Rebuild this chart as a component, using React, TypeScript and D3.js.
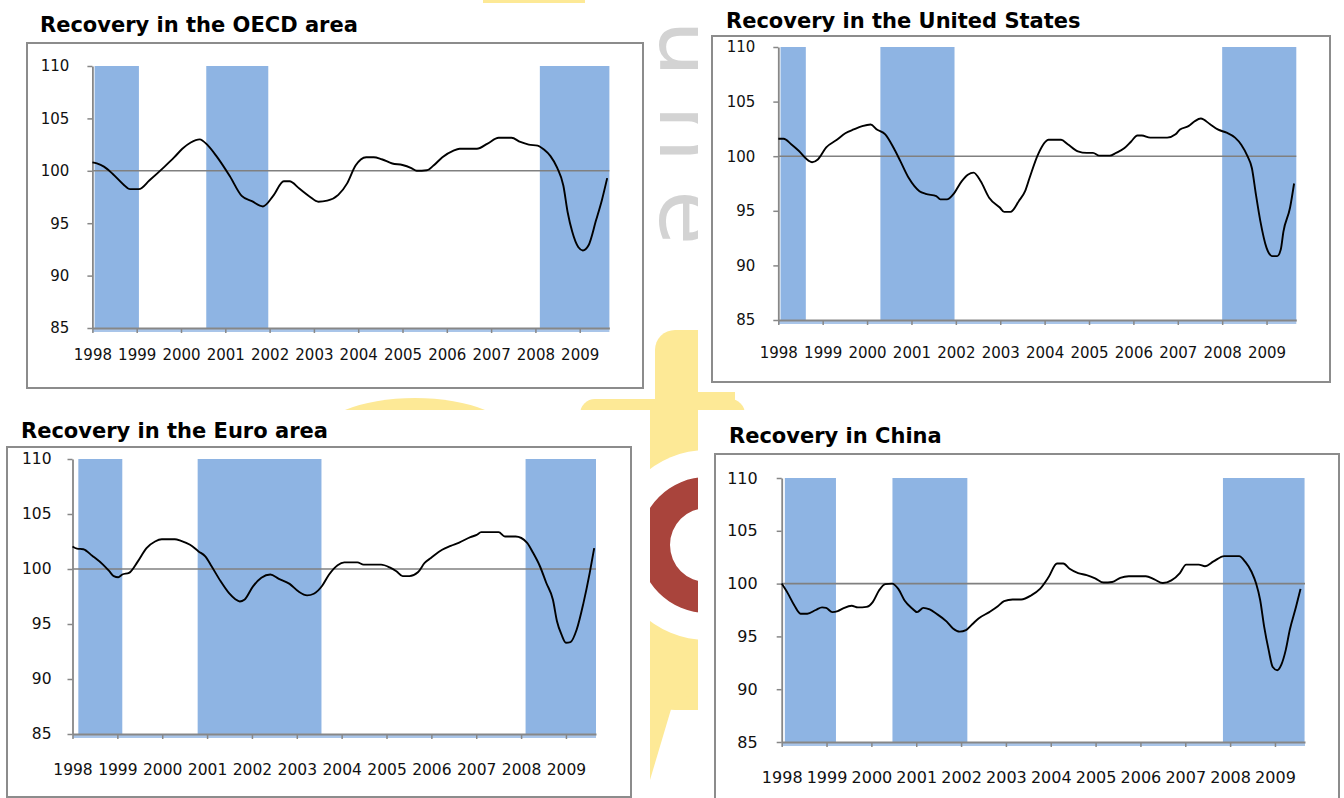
import { useRef, useEffect } from 'react';
import * as d3 from 'd3';

const yearTicks = [1998, 1999, 2000, 2001, 2002, 2003, 2004, 2005, 2006, 2007, 2008, 2009];
const valueTicks = [85, 90, 95, 100, 105, 110];

const titles = [
    'Recovery in the OECD area',
    'Recovery in the United States',
    'Recovery in the Euro area',
    'Recovery in China',
];

// [year, index]
const oecdSeries = [
    [1998.0, 100.8], [1998.1, 100.7], [1998.26, 100.4], [1998.46, 99.7], [1998.7, 98.7], [1998.85, 98.25],
    [1999.05, 98.25], [1999.29, 99.1], [1999.63, 100.4], [1999.85, 101.3], [2000.03, 102.1], [2000.22, 102.7],
    [2000.42, 103.0], [2000.61, 102.4], [2000.8, 101.4], [2001.1, 99.5], [2001.37, 97.6], [2001.6, 97.1],
    [2001.85, 96.6], [2002.08, 97.6], [2002.32, 99.0], [2002.45, 99.0], [2002.67, 98.3], [2002.9, 97.55],
    [2003.1, 97.05], [2003.3, 97.15], [2003.55, 97.7], [2003.75, 98.8], [2003.94, 100.5], [2004.18, 101.3],
    [2004.35, 101.3], [2004.53, 101.1], [2004.77, 100.7], [2005.0, 100.55], [2005.2, 100.25], [2005.32, 100.0],
    [2005.55, 100.05], [2005.7, 100.5], [2005.9, 101.3], [2006.14, 101.9], [2006.29, 102.1], [2006.68, 102.1],
    [2006.92, 102.6], [2007.17, 103.15], [2007.46, 103.15], [2007.66, 102.75], [2007.85, 102.5], [2008.05, 102.4],
    [2008.2, 102.0], [2008.34, 101.4], [2008.49, 100.3], [2008.63, 98.6], [2008.73, 96.0], [2008.83, 94.2],
    [2008.97, 92.7], [2009.07, 92.4], [2009.2, 92.9], [2009.37, 95.3], [2009.5, 97.2], [2009.62, 99.3],
];

const usSeries = [
    [1998.0, 101.6], [1998.12, 101.6], [1998.29, 101.1], [1998.46, 100.5], [1998.68, 99.6], [1998.76, 99.45],
    [1998.89, 99.7], [1999.08, 100.8], [1999.32, 101.5], [1999.51, 102.1], [1999.7, 102.45], [1999.89, 102.75],
    [2000.08, 102.9], [2000.22, 102.45], [2000.41, 102.0], [2000.6, 100.75], [2000.75, 99.55], [2000.94, 98.0],
    [2001.18, 96.8], [2001.32, 96.55], [2001.56, 96.35], [2001.65, 96.05], [2001.8, 96.05], [2001.94, 96.5],
    [2002.13, 97.7], [2002.27, 98.3], [2002.4, 98.5], [2002.56, 97.7], [2002.75, 96.2], [2002.99, 95.3],
    [2003.09, 94.9], [2003.23, 94.9], [2003.42, 95.9], [2003.56, 96.8], [2003.66, 98.0], [2003.85, 100.15],
    [2004.09, 101.5], [2004.37, 101.5], [2004.52, 101.1], [2004.75, 100.45], [2004.95, 100.3], [2005.09, 100.3],
    [2005.23, 100.05], [2005.47, 100.05], [2005.61, 100.3], [2005.8, 100.75], [2005.95, 101.35], [2006.09, 101.9],
    [2006.19, 101.9], [2006.38, 101.7], [2006.76, 101.7], [2006.95, 102.0], [2007.05, 102.45], [2007.24, 102.75],
    [2007.38, 103.2], [2007.52, 103.45], [2007.72, 102.95], [2007.9, 102.45], [2008.1, 102.15], [2008.29, 101.7],
    [2008.43, 101.05], [2008.57, 100.0], [2008.67, 98.9], [2008.76, 96.5], [2008.86, 94.05], [2009.0, 91.6],
    [2009.13, 90.85], [2009.24, 90.85], [2009.32, 91.45], [2009.38, 93.1], [2009.53, 95.3], [2009.62, 97.5],
];

const euroSeries = [
    [1998.0, 102.05], [1998.1, 101.85], [1998.24, 101.8], [1998.44, 101.2], [1998.68, 100.4], [1998.82, 99.8],
    [1998.92, 99.35], [1999.02, 99.25], [1999.11, 99.5], [1999.26, 99.65], [1999.45, 100.65], [1999.65, 101.9],
    [1999.84, 102.5], [1999.99, 102.7], [2000.28, 102.7], [2000.42, 102.55], [2000.62, 102.2], [2000.81, 101.6],
    [2000.96, 101.15], [2001.1, 100.25], [2001.3, 98.9], [2001.49, 97.8], [2001.63, 97.25], [2001.73, 97.05],
    [2001.83, 97.2], [2002.02, 98.4], [2002.21, 99.2], [2002.41, 99.5], [2002.6, 99.1], [2002.84, 98.65],
    [2003.04, 97.95], [2003.23, 97.6], [2003.38, 97.75], [2003.57, 98.5], [2003.72, 99.5], [2003.91, 100.35],
    [2004.06, 100.6], [2004.35, 100.6], [2004.49, 100.4], [2004.88, 100.4], [2005.07, 100.15], [2005.22, 99.8],
    [2005.36, 99.35], [2005.51, 99.35], [2005.7, 99.7], [2005.85, 100.55], [2005.99, 101.0], [2006.24, 101.75],
    [2006.43, 102.1], [2006.62, 102.4], [2006.87, 102.9], [2007.01, 103.1], [2007.11, 103.35], [2007.5, 103.35],
    [2007.64, 102.95], [2007.88, 102.95], [2008.13, 102.4], [2008.27, 101.45], [2008.42, 100.25], [2008.56, 98.75],
    [2008.71, 97.2], [2008.8, 95.25], [2008.9, 94.05], [2009.0, 93.3], [2009.1, 93.35], [2009.24, 94.5],
    [2009.39, 96.9], [2009.53, 99.65], [2009.63, 101.9],
];

const chinaSeries = [
    [1998.0, 100.0], [1998.14, 99.05], [1998.28, 97.95], [1998.42, 97.15], [1998.57, 97.15], [1998.76, 97.5],
    [1998.9, 97.75], [1998.99, 97.7], [1999.13, 97.3], [1999.25, 97.4], [1999.37, 97.65], [1999.56, 97.9],
    [1999.7, 97.75], [1999.89, 97.8], [2000.03, 98.25], [2000.17, 99.35], [2000.31, 99.95], [2000.46, 100.0],
    [2000.6, 99.5], [2000.74, 98.4], [2000.91, 97.65], [2001.02, 97.3], [2001.16, 97.7], [2001.3, 97.55],
    [2001.45, 97.15], [2001.68, 96.4], [2001.82, 95.75], [2001.97, 95.45], [2002.11, 95.6], [2002.25, 96.15],
    [2002.39, 96.7], [2002.63, 97.3], [2002.82, 97.85], [2002.96, 98.35], [2003.15, 98.5], [2003.34, 98.5],
    [2003.57, 98.9], [2003.76, 99.5], [2003.95, 100.6], [2004.14, 101.9], [2004.28, 101.9], [2004.42, 101.4],
    [2004.61, 101.0], [2004.8, 100.8], [2004.99, 100.5], [2005.18, 100.1], [2005.37, 100.15], [2005.55, 100.55],
    [2005.74, 100.7], [2006.12, 100.7], [2006.31, 100.4], [2006.5, 100.05], [2006.69, 100.3], [2006.88, 101.0],
    [2007.02, 101.8], [2007.3, 101.8], [2007.44, 101.65], [2007.63, 102.1], [2007.87, 102.6], [2008.2, 102.6],
    [2008.34, 102.05], [2008.48, 101.1], [2008.58, 100.0], [2008.67, 98.45], [2008.76, 95.9], [2008.86, 93.7],
    [2008.95, 92.1], [2009.05, 91.8], [2009.14, 92.3], [2009.24, 93.7], [2009.33, 95.6], [2009.47, 97.8],
    [2009.57, 99.5],
];

// shaded periods [from, to]
const oecdBands = [[1998.05, 1999.05], [2000.57, 2001.97], [2008.1, 2009.67]];
const usBands = [[1998.05, 1998.62], [2000.3, 2001.97], [2008.0, 2009.67]];
const euroBands = [[1998.13, 1999.11], [2000.79, 2003.55], [2008.1, 2009.67]];
const chinaBands = [[1998.07, 1999.21], [2000.47, 2002.14], [2007.84, 2009.66]];

const xDomain = [1998, 2009.67];

const panels = [
    { title: titles[0], series: oecdSeries, bands: oecdBands, box: [27, 43, 643, 388], titleAt: [40, 32],
      left: 92.4, right: 609.4, top: 66, bottom: 328, font: 15, xLab: 32, yPad: 18 },
    { title: titles[1], series: usSeries, bands: usBands, box: [712, 36, 1330, 382], titleAt: [726, 28],
      left: 778.3, right: 1296.3, top: 47, bottom: 320, font: 15, xLab: 38, yPad: 18 },
    { title: titles[2], series: euroSeries, bands: euroBands, box: [7, 447, 631, 797], titleAt: [21, 438],
      left: 72.5, right: 596, top: 459, bottom: 734, font: 15.5, xLab: 41, yPad: 16 },
    { title: titles[3], series: chinaSeries, bands: chinaBands, box: [715, 454, 1339, 812], titleAt: [729, 443],
      left: 781.7, right: 1305, top: 478, bottom: 742, font: 16, xLab: 41, yPad: 19 },
];

const FONT = '"DejaVu Sans", Verdana, sans-serif';
const BAND = '#8eb4e3';
const AXIS = '#878787';

function drawBackdrop(svg) {
    const yellow = '#fde996';
    svg.append('rect').attr('width', 1344).attr('height', 798).attr('fill', '#fff');
    svg.append('ellipse').attr('cx', 415).attr('cy', 440).attr('rx', 100).attr('ry', 42).attr('fill', yellow);
    svg.append('rect').attr('x', 580).attr('y', 399).attr('width', 165).attr('height', 40).attr('rx', 15).attr('fill', yellow);
    svg.append('rect').attr('x', 655).attr('y', 330).attr('width', 80).attr('height', 380).attr('rx', 20).attr('fill', yellow);
    svg.append('rect').attr('x', 640).attr('y', 420).attr('width', 60).attr('height', 280).attr('fill', yellow);
    svg.append('polygon').attr('points', '640,690 698,690 672,706 650,780 640,780').attr('fill', yellow);
    svg.append('circle').attr('cx', 707).attr('cy', 545).attr('r', 95).attr('fill', '#fff');
    svg.append('path')
        .attr('transform', 'translate(707,545)')
        .attr('d', d3.arc()({ innerRadius: 37, outerRadius: 68, startAngle: 0, endAngle: 2 * Math.PI }))
        .attr('fill', '#a9443c');
    svg.append('text')
        .attr('transform', 'translate(660,20) rotate(90)')
        .attr('font-family', FONT)
        .attr('font-size', 90)
        .attr('letter-spacing', 28)
        .attr('fill', '#d3d3d3')
        .text('une');

    // white backgrounds of the four pasted charts
    const sheets = [[0, 0, 655, 393], [698, 0, 1344, 392], [0, 410, 650, 798], [698, 410, 1344, 798]];
    svg.selectAll('.sheet').data(sheets).enter().append('rect')
        .attr('x', d => d[0]).attr('y', d => d[1])
        .attr('width', d => d[2] - d[0]).attr('height', d => d[3] - d[1])
        .attr('fill', '#fff');
    svg.append('rect').attr('x', 483).attr('y', 0).attr('width', 102).attr('height', 3).attr('fill', yellow);
}

function drawPanel(svg, p) {
    const g = svg.append('g');

    g.append('rect')
        .attr('x', p.box[0]).attr('y', p.box[1])
        .attr('width', p.box[2] - p.box[0]).attr('height', p.box[3] - p.box[1])
        .attr('fill', '#fff').attr('stroke', '#8c8c8c').attr('stroke-width', 2);

    g.append('text')
        .attr('x', p.titleAt[0]).attr('y', p.titleAt[1])
        .attr('font-family', FONT).attr('font-weight', 'bold').attr('font-size', 21)
        .attr('fill', '#000')
        .text(p.title);

    const x = d3.scaleLinear().domain(xDomain).range([p.left, p.right]);
    const y = d3.scaleLinear().domain([85, 110]).range([p.bottom, p.top]);

    g.selectAll('.band')
        .data(p.bands)
        .enter().append('rect')
        .attr('x', d => x(d[0]))
        .attr('y', y(110))
        .attr('width', d => x(d[1]) - x(d[0]))
        .attr('height', y(85) - y(110))
        .attr('fill', BAND);

    // faint blue edge under the category axis
    g.append('rect')
        .attr('x', x(1998)).attr('y', y(85) + 1)
        .attr('width', x(xDomain[1]) - x(1998)).attr('height', 3)
        .attr('fill', '#a9c5e9');

    g.append('line')
        .attr('x1', x(1998)).attr('x2', x(xDomain[1]))
        .attr('y1', y(100)).attr('y2', y(100))
        .attr('stroke', '#808080').attr('stroke-width', 1.6);

    const yAxis = g.append('g')
        .attr('transform', `translate(${x(1998)},0)`)
        .call(d3.axisLeft(y).tickValues(valueTicks).tickSize(5).tickSizeOuter(0).tickPadding(p.yPad));
    yAxis.attr('font-family', FONT).attr('font-size', p.font);
    yAxis.select('.domain').attr('stroke', AXIS).attr('stroke-width', 1.8);
    yAxis.selectAll('.tick line').attr('stroke', AXIS).attr('stroke-width', 1.5);
    yAxis.selectAll('.tick text').attr('fill', '#111');

    const xAxis = g.append('g')
        .attr('transform', `translate(0,${y(85)})`)
        .call(d3.axisBottom(x).tickValues(yearTicks).tickFormat(d3.format('d')).tickSize(5).tickSizeOuter(0));
    xAxis.attr('font-family', FONT).attr('font-size', p.font);
    xAxis.select('.domain').attr('stroke', AXIS).attr('stroke-width', 1.8);
    xAxis.selectAll('.tick line').attr('stroke', AXIS).attr('stroke-width', 1.5);
    xAxis.selectAll('.tick text').attr('fill', '#111').attr('y', p.xLab).attr('dy', null);

    const line = d3.line()
        .x(d => x(d[0]))
        .y(d => y(d[1]))
        .curve(d3.curveMonotoneX);

    g.append('path')
        .datum(p.series)
        .attr('d', line)
        .attr('fill', 'none')
        .attr('stroke', '#000')
        .attr('stroke-width', 1.9)
        .attr('stroke-linejoin', 'round');
}

const App = () => {
    const ref = useRef(null);

    useEffect(() => {
        const svg = d3.select(ref.current);
        svg.selectAll('*').remove();
        drawBackdrop(svg);
        panels.forEach(p => drawPanel(svg, p));
    }, []);

    return (
        <svg
            ref={ref}
            width={1344}
            height={798}
            style={{ position: 'absolute', left: 0, top: 0, display: 'block' }}
        ></svg>
    );
};

export default App;
